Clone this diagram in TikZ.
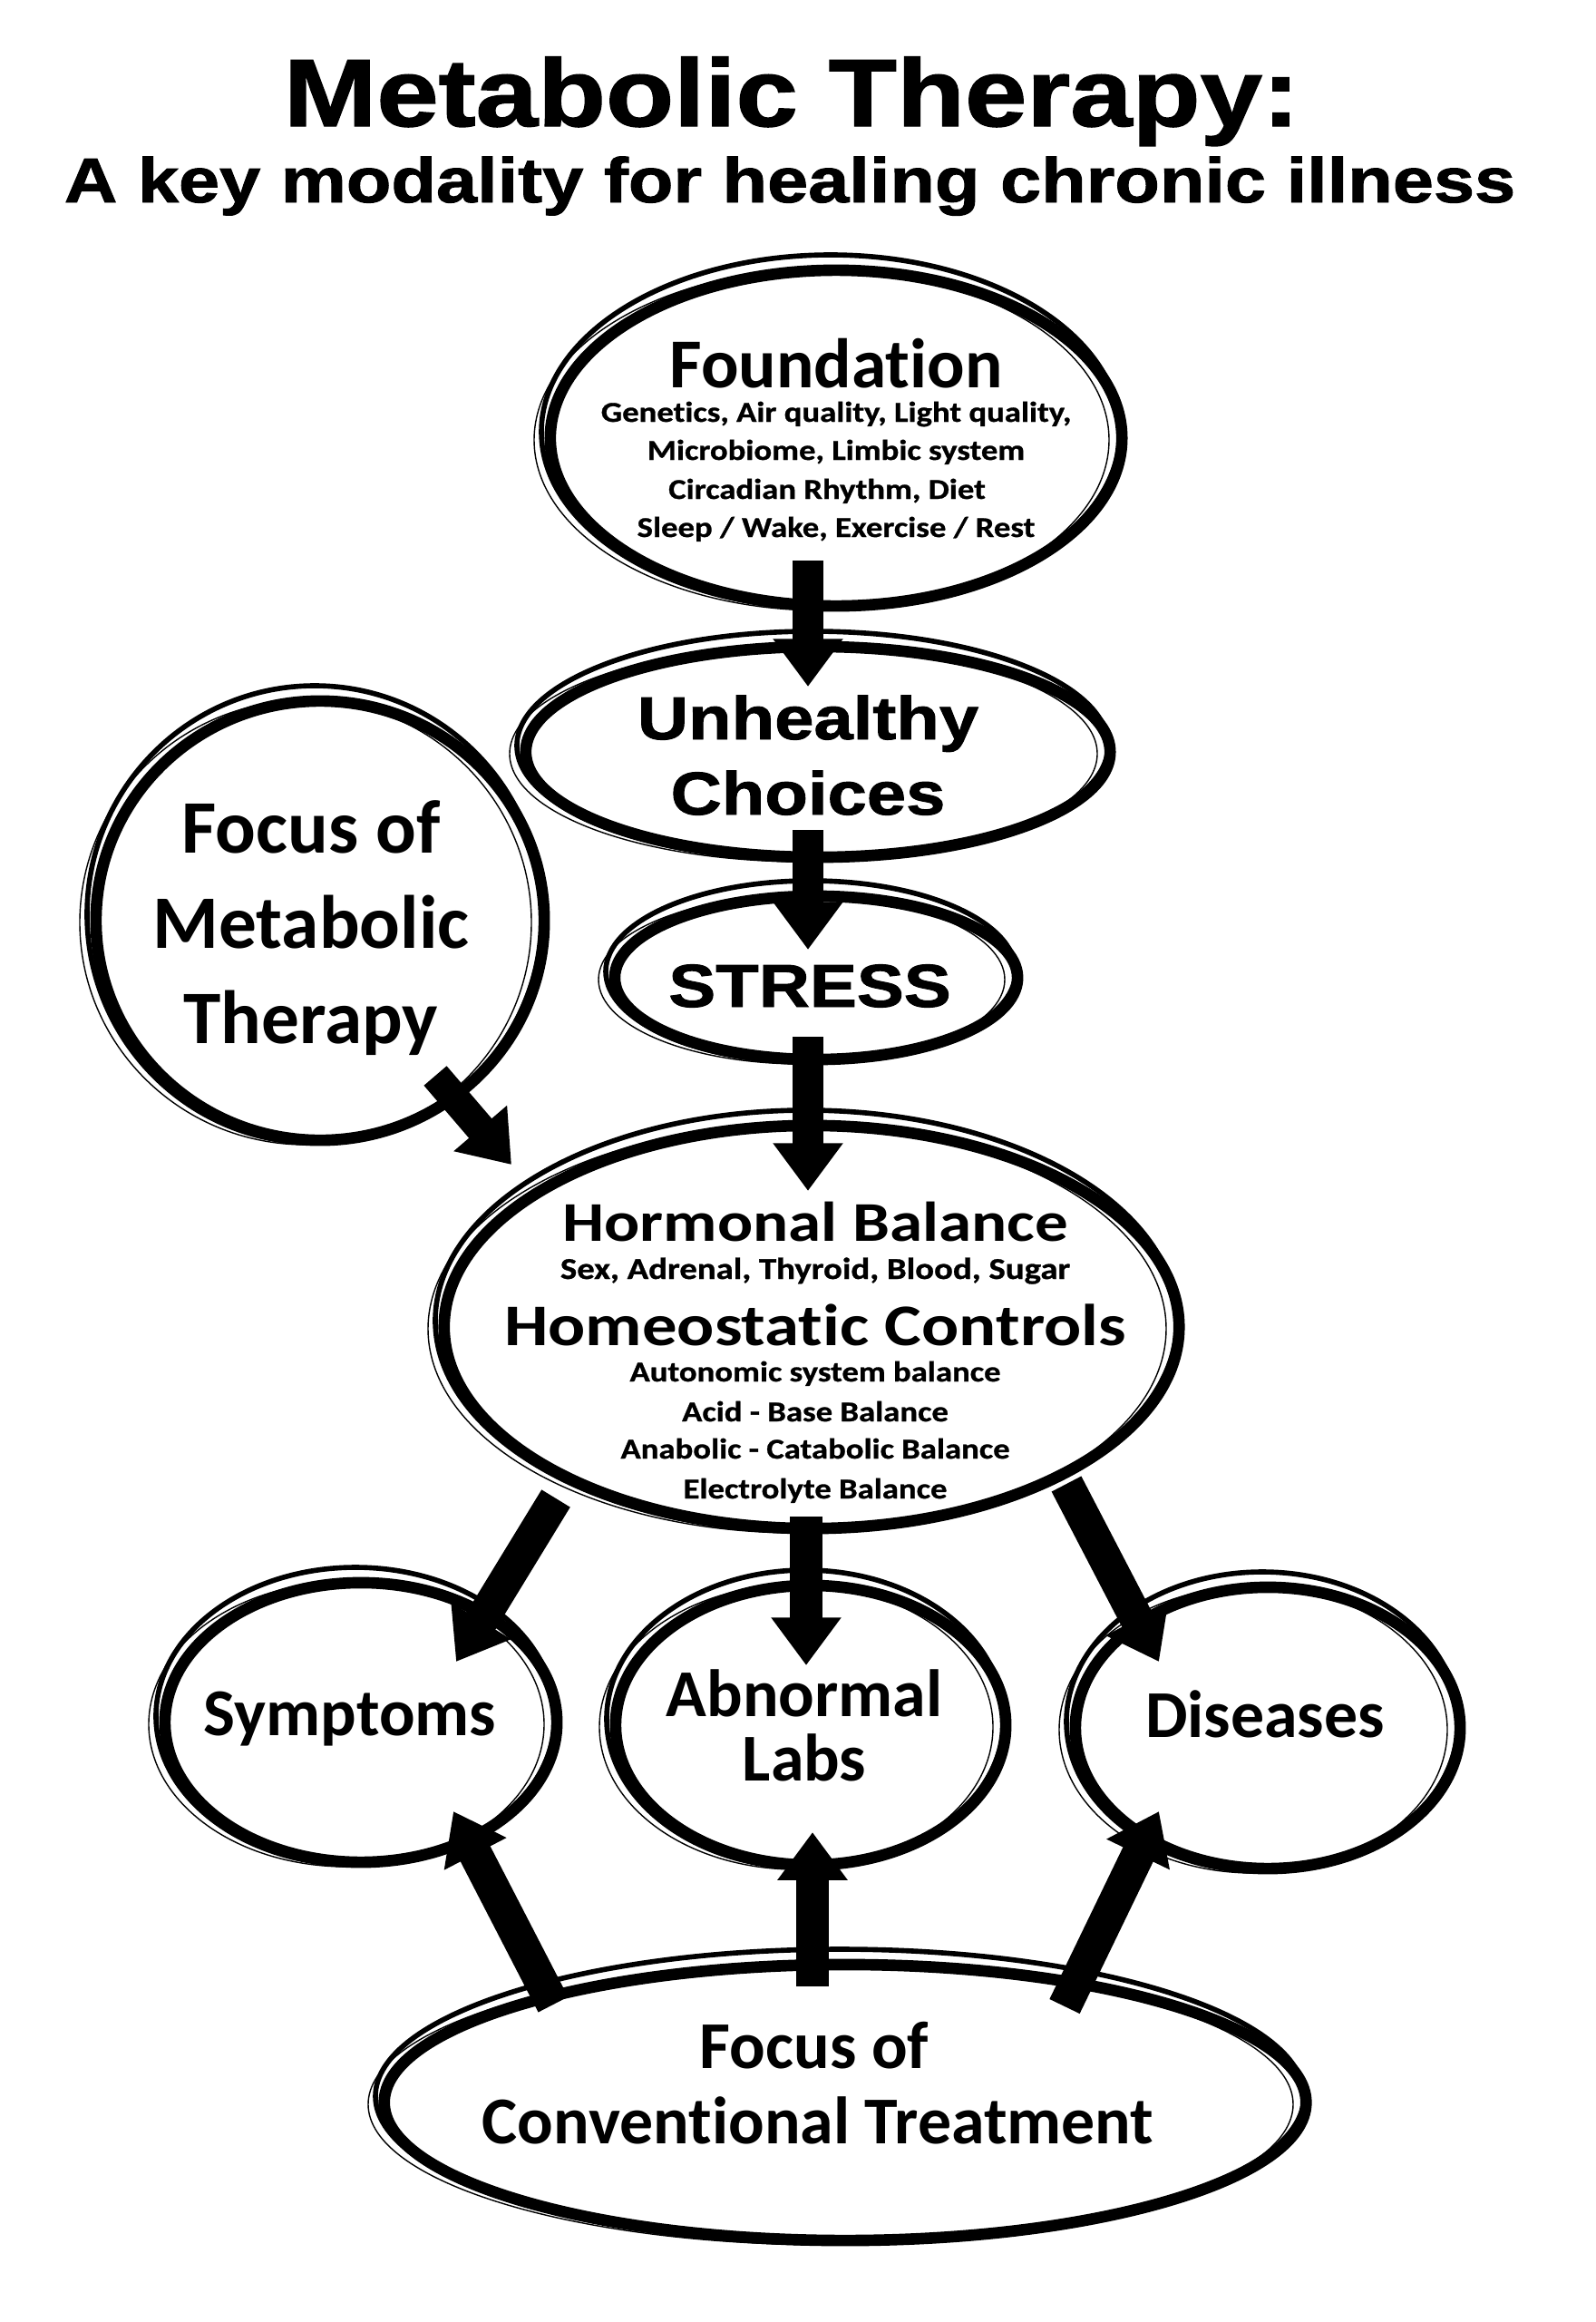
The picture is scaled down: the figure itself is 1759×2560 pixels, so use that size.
\documentclass[tikz,border=0pt]{standalone}
\usepackage{fontspec}
\newfontfamily\headfont{Liberation Sans}[FakeStretch=1.165, FakeBold=1.4]
\newfontfamily\bodyfont{Carlito}[Ligatures=NoCommon]
\newfontfamily\widefont{Carlito}[FakeStretch=1.18, Ligatures=NoCommon]
\newfontfamily\smallfont{Carlito}[FakeStretch=1.16, FakeBold=0.9, Ligatures=NoCommon]
\newcommand{\hd}[1]{\headfont\bfseries\fontsize{#1}{#1}\selectfont}
\newcommand{\bd}[1]{\bodyfont\bfseries\fontsize{#1}{#1}\selectfont}
\newcommand{\wf}[1]{\widefont\bfseries\fontsize{#1}{#1}\selectfont}
\newcommand{\sm}[1]{\smallfont\bfseries\fontsize{#1}{#1}\selectfont}
\newcommand{\rimellipse}[3]% node, xdim, ydim
{\draw[line width=1.6pt] ([shift={(-6,-7)}]#1.center) ellipse ({#2+4} and {#3+10});
 \draw[line width=0.4pt] ([shift={(-16,2)}]#1.center) ellipse ({#2+2} and {#3+3});
}
\usetikzlibrary{shapes.geometric}
\usetikzlibrary{arrows.meta}
\tikzset{
  blob/.style={ellipse, draw, line width=3.6pt, outer sep=0pt, inner sep=0pt},
  lbl/.style={anchor=base, inner sep=0pt},
  fat/.style={line width=9.4pt, -{Triangle[width=21pt,length=15pt]}},
  fatter/.style={line width=10.5pt, -{Triangle[width=21pt,length=15pt]}}
}

\begin{document}
\begin{tikzpicture}[x=0.01cm, y=-0.01cm]
	\fill[white] (0,0) rectangle (1759,2560);
	\useasboundingbox (0,0) rectangle (1759,2560);
	% title
	\node[lbl, font=\hd{30}] (ttl) at (873,139) {Metabolic Therapy:};
	\node[lbl, font=\hd{19.8}] (sub) at (871,223) {A key modality for healing chronic illness};
	% ellipses
	\node[blob, minimum width=6.30cm, minimum height=3.70cm] (found) at (922,483) {};
	\node[blob, minimum width=6.44cm, minimum height=2.32cm] (unh) at (902,829) {};
	\node[blob, minimum width=4.44cm, minimum height=1.80cm] (stress) at (900,1078) {};
	\node[blob, minimum width=4.94cm, minimum height=4.84cm] (fmt) at (353,1015) {};
	\node[blob, minimum width=8.10cm, minimum height=4.44cm] (horm) at (895,1463) {};
	\node[blob, minimum width=4.32cm, minimum height=3.08cm] (symp) at (398,1899) {};
	\node[blob, minimum width=4.30cm, minimum height=3.08cm] (labs) at (894,1902) {};
	\node[blob, minimum width=4.24cm, minimum height=3.10cm] (dis) at (1398,1905) {};
	\node[blob, minimum width=10.16cm, minimum height=3.04cm] (conv) at (932,2318) {};
	\rimellipse{found}{315}{185}
	\rimellipse{unh}{322}{116}
	\rimellipse{stress}{222}{90}
	\rimellipse{fmt}{247}{242}
	\rimellipse{horm}{405}{222}
	\rimellipse{symp}{216}{154}
	\rimellipse{labs}{215}{154}
	\rimellipse{dis}{212}{155}
	\rimellipse{conv}{508}{152}
	% foundation
	\node[lbl, font=\bd{22}] (fnd0) at (922,427) {Foundation};
	\node[lbl, font=\sm{9}] (fnd1) at (922,465) {Genetics, Air quality, Light quality,};
	\node[lbl, font=\sm{9}] (fnd2) at (922,507) {Microbiome, Limbic system};
	\node[lbl, font=\sm{9}] (fnd3) at (912,550) {Circadian Rhythm, Diet};
	\node[lbl, font=\sm{9}] (fnd4) at (922,592) {Sleep / Wake, Exercise / Rest};
	% chain
	\node[lbl, font=\hd{19}] (unh1) at (891,815) {Unhealthy};
	\node[lbl, font=\hd{19}] (unh2) at (891,898) {Choices};
	\node[lbl, font=\hd{19}] (str1) at (893,1110) {STRESS};
	\node[lbl, font=\bd{23.7}] (fmt1) at (343,940) {Focus of};
	\node[lbl, font=\bd{23.7}] (fmt2) at (343,1045) {Metabolic};
	\node[lbl, font=\bd{23.7}] (fmt3) at (343,1150) {Therapy};
	% hormonal
	\node[lbl, font=\wf{17.6}] (hrm1) at (899,1368) {Hormonal Balance};
	\node[lbl, font=\sm{9.5}] (hrm2) at (899,1410) {Sex, Adrenal, Thyroid, Blood, Sugar};
	\node[lbl, font=\wf{18.5}] (hrm3) at (899,1483) {Homeostatic Controls};
	\node[lbl, font=\sm{9}] (hrm4) at (899,1523) {Autonomic system balance};
	\node[lbl, font=\sm{9}] (hrm5) at (899,1567) {Acid - Base Balance};
	\node[lbl, font=\sm{9}] (hrm6) at (899,1608) {Anabolic - Catabolic Balance};
	\node[lbl, font=\sm{9}] (hrm7) at (899,1652) {Electrolyte Balance};
	% outcomes
	\node[lbl, font=\bd{21}] (sym1) at (386,1913) {Symptoms};
	\node[lbl, font=\bd{21}] (lab1) at (887,1892) {Abnormal};
	\node[lbl, font=\bd{21}] (lab2) at (887,1963) {Labs};
	\node[lbl, font=\bd{21}] (dis1) at (1395,1915) {Diseases};
	\node[lbl, font=\bd{21}] (cnv1) at (898,2280) {Focus of};
	\node[lbl, font=\bd{21}] (cnv2) at (902,2363) {Conventional Treatment};
	% arrows
	\draw[fat] ([shift={(-31,135)}]found.center) -- ([shift={(-11,-72)}]unh.center);
	\draw[fat] ([shift={(-11,86)}]unh.center) -- ([shift={(-9,-31)}]stress.center);
	\draw[fat] ([shift={(-9,65)}]stress.center) -- ([shift={(-4,-150)}]horm.center);
	\draw[fat] ([shift={(127,171)}]fmt.center) -- ([shift={(-331,-179)}]horm.center);
	\draw[fatter] ([shift={(-282,189)}]horm.center) -- ([shift={(105,-67)}]symp.center);
	\draw[fatter] ([shift={(-6,209)}]horm.center) -- ([shift={(-5,-66)}]labs.center);
	\draw[fatter] ([shift={(281,173)}]horm.center) -- ([shift={(-120,-73)}]dis.center);
	\draw[fatter] ([shift={(-322,-108)}]conv.center) -- ([shift={(102,98)}]symp.center);
	\draw[fatter] ([shift={(-36,-128)}]conv.center) -- ([shift={(2,118)}]labs.center);
	\draw[fatter] ([shift={(242,-106)}]conv.center) -- ([shift={(-120,92)}]dis.center);
\end{tikzpicture}
\end{document}
